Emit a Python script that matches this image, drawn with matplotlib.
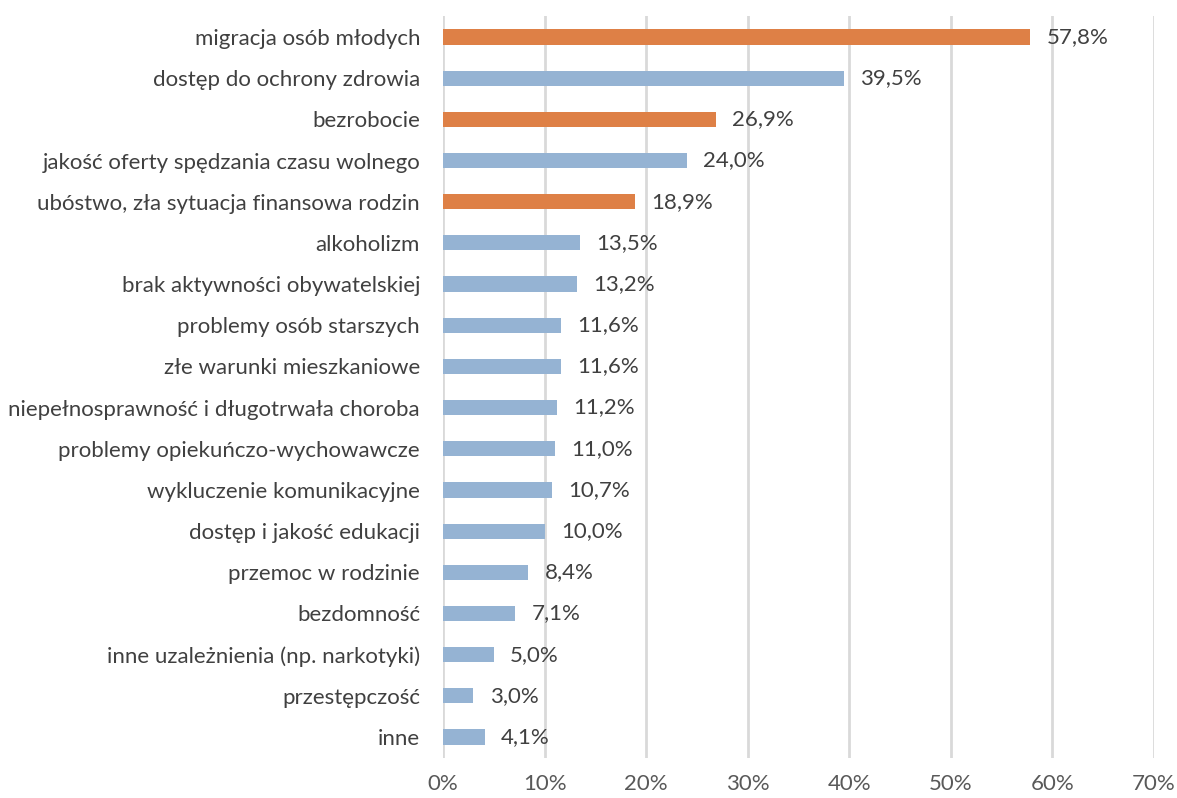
import matplotlib
matplotlib.use("Agg")
import matplotlib.pyplot as plt

categories = [
    "migracja osób młodych",
    "dostęp do ochrony zdrowia",
    "bezrobocie",
    "jakość oferty spędzania czasu wolnego",
    "ubóstwo, zła sytuacja finansowa rodzin",
    "alkoholizm",
    "brak aktywności obywatelskiej",
    "problemy osób starszych",
    "złe warunki mieszkaniowe",
    "niepełnosprawność i długotrwała choroba",
    "problemy opiekuńczo-wychowawcze",
    "wykluczenie komunikacyjne",
    "dostęp i jakość edukacji",
    "przemoc w rodzinie",
    "bezdomność",
    "inne uzależnienia (np. narkotyki)",
    "przestępczość",
    "inne",
]
values = [57.8, 39.5, 26.9, 24.0, 18.9, 13.5, 13.2, 11.6, 11.6, 11.2, 11.0, 10.7, 10.0, 8.4, 7.1, 5.0, 3.0, 4.1]
highlight = [True, False, True, False, True] + [False] * 13
xticks = [0, 10, 20, 30, 40, 50, 60, 70]

ORANGE = "#DE8046"
BLUE = "#95B3D3"
TEXT = "#404040"

plt.rcParams['font.family'] = ['Lato', 'DejaVu Sans']

fig = plt.figure(figsize=(11.77, 7.98), dpi=100)
ax = fig.add_axes([443/1177, 1 - 757.6/798, (1154-443)/1177, (757.6-16.4)/798])

ypos = list(range(len(categories)))
colors = [ORANGE if h else BLUE for h in highlight]
ax.barh(ypos, values, height=0.37, color=colors, zorder=3)
for y, v in zip(ypos, values):
    ax.text(v + 1.6, y, f"{v:.1f}%".replace(".", ","), va="center", ha="left",
            fontsize=16, color=TEXT, zorder=4)

ax.set_ylim(len(categories) - 0.5, -0.5)
ax.set_xlim(0, 70)
ax.set_yticks(ypos)
ax.set_yticklabels(categories, fontsize=16, color=TEXT)
ax.set_xticks(xticks)
ax.set_xticklabels([f"{t}%" for t in xticks], fontsize=16, color="#595959")
ax.tick_params(axis="both", length=0)
ax.tick_params(axis="y", pad=16.5)
ax.tick_params(axis="x", pad=12)
ax.grid(axis="x", color="#D9D9D9", linewidth=2, zorder=0)
for s in ax.spines.values():
    s.set_visible(False)

fig.savefig("out.png", dpi=100)
